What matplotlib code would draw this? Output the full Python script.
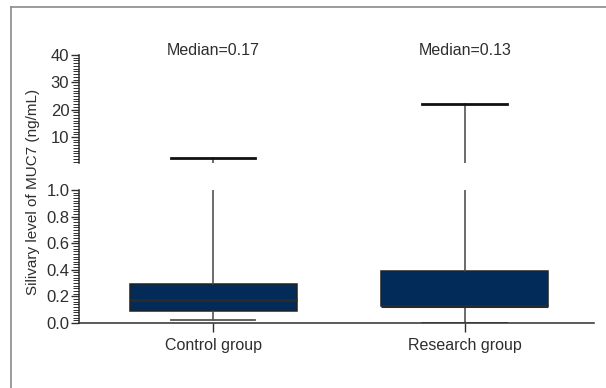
import matplotlib
matplotlib.use("Agg")
import matplotlib.pyplot as plt
from matplotlib.lines import Line2D
from matplotlib.ticker import MultipleLocator
import matplotlib.transforms as mtransforms

plt.rcParams['font.family'] = ['Liberation Sans', 'DejaVu Sans']

# Salivary MUC7 summary per group (ng/mL)
groups = ["Control group", "Research group"]
medians = [0.17, 0.13]
q1 = [0.09, 0.13]
q3 = [0.29, 0.39]
whisker_low = [0.02, 0.003]
whisker_high = [2.2, 22.0]
median_labels = ["Median=0.17", "Median=0.13"]

positions = [1, 2]
stats = []
for i, g in enumerate(groups):
    stats.append(dict(label=g, med=medians[i], q1=q1[i], q3=q3[i],
                      whislo=whisker_low[i], whishi=whisker_high[i], fliers=[]))

ink = "#2e2e2e"
box_fill = "#032b5a"
fs = 11

fig = plt.figure(figsize=(6.06, 3.88), dpi=100)

# outer frame (left and top edges)
fig.add_artist(Line2D([0.018, 0.018], [0.0, 0.983], transform=fig.transFigure,
                      color="#8a8a8a", lw=1.2))
fig.add_artist(Line2D([0.018, 1.0], [0.983, 0.983], transform=fig.transFigure,
                      color="#8a8a8a", lw=1.2))

left, width = 0.1304, 0.8496
ax_lo = fig.add_axes([left, 0.1675, width, 0.3428])
ax_hi = fig.add_axes([left, 0.5799, width, 0.2783])

common = dict(positions=positions, widths=0.663, patch_artist=True,
              whiskerprops=dict(color="#444444", lw=1.1),
              showfliers=False)

ax_lo.bxp(stats, boxprops=dict(facecolor=box_fill, edgecolor="#222222", lw=1.1),
          medianprops=dict(color="#2a2a2a", lw=2.2),
          capprops=dict(color="#555555", lw=1.3), capwidths=0.337, **common)
ax_hi.bxp(stats, showbox=False,
          medianprops=dict(color="none"),
          capprops=dict(color="#111111", lw=2.0), capwidths=0.337, **common)

for ax in (ax_lo, ax_hi):
    ax.set_xlim(0.468, 2.512)
    for s in ("top", "right"):
        ax.spines[s].set_visible(False)
    ax.spines["left"].set_color(ink)
    ax.spines["left"].set_linewidth(1.1)
    ax.tick_params(axis="y", which="major", length=6.0, width=1.0, color=ink,
                   labelsize=fs + 1, labelcolor=ink, pad=1.0)
    ax.tick_params(axis="y", which="minor", length=4.3, width=0.7, color=ink)

ax_lo.set_ylim(0, 1.0)
ax_lo.yaxis.set_minor_locator(MultipleLocator(0.02))
ax_lo.set_yticks([0, 0.2, 0.4, 0.6, 0.8, 1.0])
ax_lo.set_yticklabels(["0.0", "0.2", "0.4", "0.6", "0.8", "1.0"])
ax_lo.spines["bottom"].set_color(ink)
ax_lo.spines["bottom"].set_linewidth(1.1)
ax_lo.set_xticks(positions)
ax_lo.set_xticklabels(groups)
ax_lo.tick_params(axis="x", length=6.5, width=1.0, color=ink, labelsize=fs + 0.5,
                  labelcolor=ink, pad=4)

ax_hi.set_ylim(0.5, 40)
ax_hi.set_yticks([10, 20, 30, 40])
ax_hi.yaxis.set_minor_locator(MultipleLocator(1))
ax_hi.spines["bottom"].set_visible(False)
ax_hi.set_xticks([])

trans = mtransforms.blended_transform_factory(ax_hi.transData, ax_hi.transAxes)
for x, lab in zip(positions, median_labels):
    ax_hi.text(x, 1.046, lab, transform=trans, ha="center", va="center",
               fontsize=fs + 0.5, color=ink)

fig.text(0.054, 0.505, "Silivary level of MUC7 (ng/mL)", rotation=90,
         ha="center", va="center", fontsize=fs, color=ink)

fig.savefig("out.png", dpi=100)
